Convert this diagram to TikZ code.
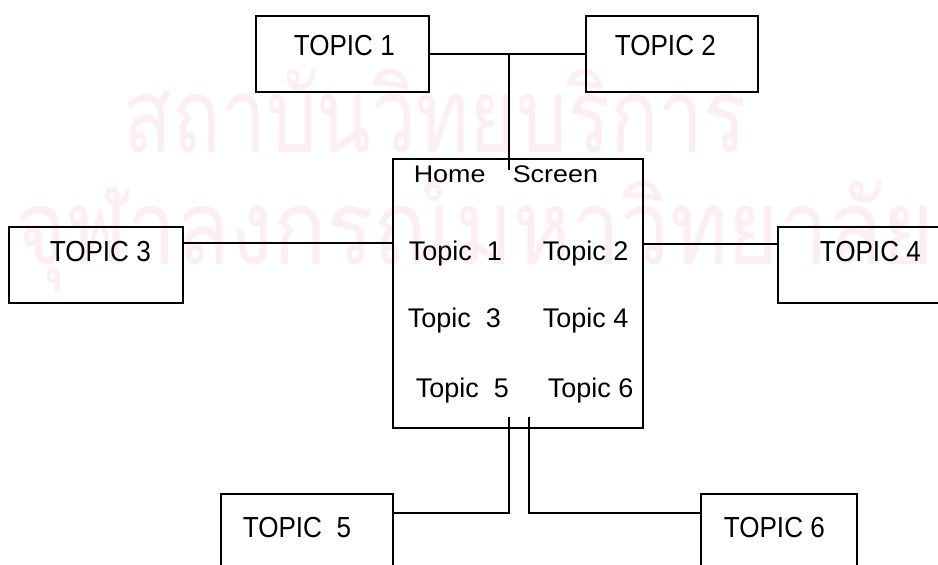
\documentclass[tikz,border=0pt]{standalone}
\usepackage{fontspec}
\setmainfont{Liberation Sans}
\newfontfamily\capsfont[FakeStretch=0.9]{Liberation Sans}
\newfontfamily\homefont[FakeStretch=1.12]{Liberation Sans}
\newfontfamily\thaifontA[Script=Thai,FakeStretch=0.77]{Loma}
\newfontfamily\thaifontB[Script=Thai,FakeStretch=0.845]{Loma}
\usetikzlibrary{calc}
\definecolor{wm}{RGB}{252,238,244}
\begin{document}
\begin{tikzpicture}[x=1pt,y=-1pt,line width=1.6pt,
  box/.style={draw,rectangle,inner sep=0pt,outer sep=0pt,minimum height=76pt},
  lbl/.style={anchor=base west,inner sep=0pt,font=\capsfont\fontsize{29}{34}\selectfont},
  sub/.style={anchor=base west,inner sep=0pt,font=\fontsize{27}{32}\selectfont},
  hom/.style={anchor=base west,inner sep=0pt,font=\homefont\fontsize{24}{29}\selectfont},
  wmark/.style={anchor=base west,inner sep=0pt,text=wm}]
\useasboundingbox (0,0) rectangle (938,565);
\clip (0,0) rectangle (938,565);
\fill[white] (0,0) rectangle (938,565);
% watermark
\node[wmark,font=\thaifontA\fontsize{104}{114}\selectfont] (wm1) at (123,152) {สถาบันวิทยบริการ};
\node[wmark,font=\thaifontB\fontsize{104}{114}\selectfont] (wm2) at (15,264) {จุฬาลงกรณ์มหาวิทยาลัย};
% boxes
\node[box,minimum width=173pt] (t1) at (342.5,54) {};
\node[box,minimum width=172pt] (t2) at (672,54) {};
\node[box,minimum width=174pt] (t3) at (96,265) {};
\node[box,minimum width=172pt] (t4) at (864,265) {};
\node[box,minimum width=172pt] (t5) at (307,532) {};
\node[box,minimum width=156pt] (t6) at (779,532) {};
\node[box,minimum width=250pt,minimum height=269pt] (home) at (518,293.5) {};
% labels
\node[lbl] (l1) at (293,55) {TOPIC 1};
\node[lbl] (l2) at (614,55) {TOPIC 2};
\node[lbl] (l3) at (49,261) {TOPIC 3};
\node[lbl] (l4) at (819,261) {TOPIC 4};
\node[lbl] (l5) at (242,537) {TOPIC~~5};
\node[lbl] (l6) at (723,537) {TOPIC 6};
\node[hom] (hh) at (413,182) {Home};
\node[hom] (hs) at (512,182) {Screen};
\node[sub] (s1) at (408,260) {Topic~~1};
\node[sub] (s2) at (542,260) {Topic 2};
\node[sub] (s3) at (407,327) {Topic~~3};
\node[sub] (s4) at (542,327) {Topic 4};
\node[sub] (s5) at (415,397) {Topic~~5};
\node[sub] (s6) at (547,397) {Topic 6};
% connectors
\draw (t1.east) -- (t2.west);
\coordinate (j) at (509,54);
\coordinate (htop) at (509,170);
\draw (j) -- (htop);
\path ([yshift=-16pt]t3.north east) coordinate (a3);
\draw (a3) -- (a3 -| home.west);
\path ([yshift=-17pt]t4.north west) coordinate (a4);
\draw (a4) -- (a4 -| home.east);
\path ([yshift=-19pt]t5.north east) coordinate (a5);
\coordinate (b5) at (509,417);
\draw (a5) -| (b5);
\path ([yshift=-19pt]t6.north west) coordinate (a6);
\coordinate (b6) at (529,417);
\draw (a6) -| (b6);
\end{tikzpicture}
\end{document}
